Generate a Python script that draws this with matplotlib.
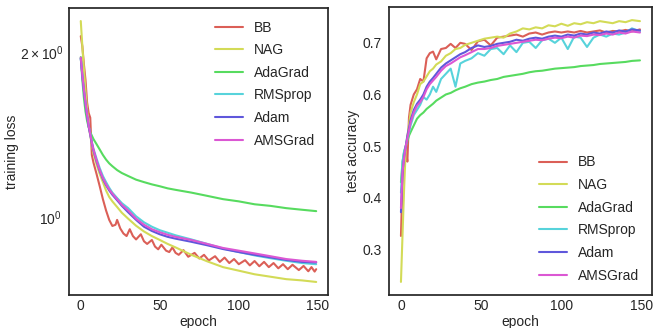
import matplotlib
matplotlib.use("Agg")
import matplotlib.pyplot as plt
import seaborn as sns

sns.set_style("white")
plt.rcParams['font.family'] = ['Liberation Sans', 'DejaVu Sans']

methods = ["BB", "NAG", "AdaGrad", "RMSprop", "Adam", "AMSGrad"]
colors = sns.color_palette("hls", 6)

# ---- training loss (left) ----
loss_epochs = [0, 1, 2, 3, 4, 5, 6, 7, 8, 10, 12, 14, 16, 18, 20, 23, 26, 30, 35, 40,
               45, 50, 55, 60, 70, 80, 90, 100, 110, 120, 130, 140, 149]
loss_nag = [2.28, 2.05, 1.86, 1.70, 1.57, 1.47, 1.41, 1.36, 1.31, 1.25, 1.20, 1.16, 1.12,
            1.09, 1.07, 1.045, 1.02, 0.995, 0.966, 0.943, 0.925, 0.91, 0.895, 0.882,
            0.855, 0.832, 0.812, 0.80, 0.788, 0.78, 0.772, 0.768, 0.763]
loss_adagrad = [1.96, 1.78, 1.65, 1.56, 1.50, 1.46, 1.43, 1.41, 1.39, 1.36, 1.33, 1.30,
                1.275, 1.255, 1.24, 1.22, 1.205, 1.19, 1.172, 1.16, 1.149, 1.14, 1.13,
                1.123, 1.11, 1.095, 1.08, 1.07, 1.057, 1.05, 1.04, 1.033, 1.027]
loss_rmsprop = [1.95, 1.82, 1.71, 1.62, 1.54, 1.47, 1.42, 1.375, 1.335, 1.28, 1.23, 1.19,
                1.16, 1.133, 1.11, 1.085, 1.062, 1.04, 1.005, 0.98, 0.962, 0.948, 0.938,
                0.928, 0.912, 0.895, 0.878, 0.865, 0.853, 0.843, 0.834, 0.826, 0.822]
loss_adam = [1.95, 1.81, 1.70, 1.61, 1.53, 1.465, 1.415, 1.365, 1.325, 1.265, 1.215, 1.175,
             1.145, 1.12, 1.10, 1.075, 1.05, 1.022, 0.99, 0.962, 0.945, 0.932, 0.922,
             0.915, 0.903, 0.89, 0.876, 0.865, 0.855, 0.846, 0.837, 0.83, 0.828]
loss_amsgrad = [1.956, 1.82, 1.71, 1.62, 1.54, 1.47, 1.42, 1.37, 1.33, 1.27, 1.22, 1.18,
                1.15, 1.125, 1.105, 1.08, 1.055, 1.03, 0.995, 0.97, 0.952, 0.94, 0.93,
                0.922, 0.91, 0.895, 0.88, 0.87, 0.86, 0.85, 0.84, 0.834, 0.83]

bb_loss_epochs = [0, 1, 2, 3, 4, 5, 6, 7, 8, 10, 12, 14, 16, 18, 20, 22, 23, 25, 27, 29,
                  31, 33, 35, 38, 40, 42, 45, 47, 49, 51, 54, 56, 58, 60, 62, 65, 68, 72,
                  75, 78, 81, 85, 88, 91, 94, 97, 100, 104, 107, 110, 113, 116, 119, 122,
                  125, 128, 131, 134, 138, 141, 144, 146, 148, 149]
bb_loss = [2.14, 2.05, 1.90, 1.78, 1.62, 1.55, 1.52, 1.30, 1.26, 1.20, 1.14, 1.08, 1.03,
           0.99, 0.965, 0.97, 0.99, 0.955, 0.935, 0.925, 0.952, 0.925, 0.912, 0.932,
           0.905, 0.895, 0.91, 0.885, 0.875, 0.892, 0.87, 0.865, 0.882, 0.862, 0.855,
           0.872, 0.848, 0.862, 0.842, 0.855, 0.835, 0.85, 0.83, 0.845, 0.826, 0.84,
           0.822, 0.836, 0.818, 0.833, 0.815, 0.83, 0.812, 0.826, 0.808, 0.822, 0.805,
           0.82, 0.802, 0.816, 0.798, 0.812, 0.797, 0.805]

# ---- test accuracy (right) ----
acc_epochs = [0, 1, 2, 3, 4, 5, 6, 8, 10, 12, 14, 16, 18, 20, 22, 25, 28, 31, 34, 37, 40,
              44, 48, 52, 56, 60, 64, 68, 72, 76, 80, 84, 88, 92, 96, 100, 104, 108, 112,
              116, 120, 124, 128, 132, 136, 140, 144, 149]
acc_bb = [0.326, 0.44, 0.48, 0.495, 0.47, 0.555, 0.58, 0.60, 0.61, 0.63, 0.625, 0.67,
          0.68, 0.683, 0.668, 0.688, 0.69, 0.698, 0.69, 0.70, 0.698, 0.686, 0.703, 0.706,
          0.695, 0.71, 0.712, 0.714, 0.716, 0.712, 0.718, 0.72, 0.716, 0.72, 0.722, 0.72,
          0.722, 0.72, 0.723, 0.72, 0.722, 0.724, 0.72, 0.723, 0.722, 0.725, 0.722, 0.726]
acc_nag = [0.237, 0.33, 0.42, 0.495, 0.52, 0.54, 0.565, 0.585, 0.60, 0.62, 0.625, 0.635,
           0.645, 0.65, 0.658, 0.664, 0.675, 0.68, 0.688, 0.69, 0.696, 0.70, 0.704, 0.708,
           0.71, 0.712, 0.71, 0.718, 0.722, 0.728, 0.726, 0.73, 0.728, 0.734, 0.732, 0.737,
           0.733, 0.738, 0.736, 0.74, 0.738, 0.742, 0.74, 0.738, 0.742, 0.74, 0.744, 0.742]
acc_adagrad = [0.43, 0.47, 0.49, 0.50, 0.51, 0.52, 0.527, 0.54, 0.553, 0.56, 0.565, 0.572,
               0.577, 0.582, 0.588, 0.594, 0.60, 0.603, 0.608, 0.612, 0.615, 0.62, 0.623,
               0.625, 0.628, 0.63, 0.634, 0.636, 0.638, 0.64, 0.643, 0.645, 0.646, 0.648,
               0.65, 0.651, 0.652, 0.653, 0.655, 0.656, 0.657, 0.659, 0.66, 0.661, 0.662,
               0.663, 0.665, 0.666]
acc_rmsprop = [0.41, 0.47, 0.49, 0.50, 0.515, 0.525, 0.54, 0.56, 0.57, 0.58, 0.595, 0.59,
               0.60, 0.615, 0.605, 0.63, 0.64, 0.65, 0.615, 0.66, 0.665, 0.67, 0.68, 0.675,
               0.688, 0.69, 0.678, 0.695, 0.682, 0.70, 0.702, 0.69, 0.705, 0.708, 0.70,
               0.71, 0.688, 0.712, 0.71, 0.692, 0.71, 0.716, 0.712, 0.718, 0.716, 0.72,
               0.728, 0.722]
acc_adam = [0.372, 0.45, 0.48, 0.50, 0.52, 0.535, 0.55, 0.57, 0.582, 0.59, 0.60, 0.615,
            0.625, 0.632, 0.64, 0.652, 0.66, 0.666, 0.672, 0.678, 0.682, 0.69, 0.695,
            0.692, 0.694, 0.698, 0.70, 0.702, 0.706, 0.704, 0.708, 0.71, 0.708, 0.712,
            0.714, 0.712, 0.716, 0.714, 0.718, 0.716, 0.72, 0.718, 0.722, 0.72, 0.724,
            0.722, 0.726, 0.724]
acc_amsgrad = [0.38, 0.45, 0.478, 0.50, 0.515, 0.53, 0.545, 0.565, 0.578, 0.585, 0.595,
               0.61, 0.62, 0.627, 0.634, 0.646, 0.655, 0.66, 0.666, 0.672, 0.676, 0.682,
               0.688, 0.688, 0.69, 0.694, 0.696, 0.698, 0.70, 0.702, 0.704, 0.706, 0.705,
               0.708, 0.71, 0.709, 0.712, 0.71, 0.714, 0.713, 0.716, 0.715, 0.718, 0.716,
               0.72, 0.718, 0.722, 0.72]

fig = plt.figure(figsize=(6.54, 3.28), dpi=100)
ax1 = fig.add_axes([0.1055, 0.1006, 0.396, 0.875])
ax2 = fig.add_axes([0.5948, 0.1006, 0.402, 0.878])

loss_series = [(bb_loss_epochs, bb_loss), (loss_epochs, loss_nag), (loss_epochs, loss_adagrad),
               (loss_epochs, loss_rmsprop), (loss_epochs, loss_adam), (loss_epochs, loss_amsgrad)]
for (x, y), name, c in zip(loss_series, methods, colors):
    ax1.plot(x, y, color=c, label=name, lw=1.5)
ax1.set_yscale("log")
ax1.set_ylabel("training loss", labelpad=1)
ax1.legend(loc="upper right", frameon=False, labelspacing=0.62)

acc_series = [acc_bb, acc_nag, acc_adagrad, acc_rmsprop, acc_adam, acc_amsgrad]
for y, name, c in zip(acc_series, methods, colors):
    ax2.plot(acc_epochs, y, color=c, label=name, lw=1.5)
ax2.set_ylabel("test accuracy", labelpad=2)
ax2.legend(loc="lower right", frameon=False, labelspacing=0.62)

for ax in (ax1, ax2):
    ax.set_xticks([0, 50, 100, 150])
    ax.set_xlabel("epoch", labelpad=1)
    ax.tick_params(axis="both", which="both", length=0, labelsize=10)
    ax.tick_params(axis="x", pad=3)
    ax.tick_params(axis="y", pad=5)
    for s in ax.spines.values():
        s.set_color("0.15")
        s.set_linewidth(1.25)

fig.savefig("out.png", dpi=100)
